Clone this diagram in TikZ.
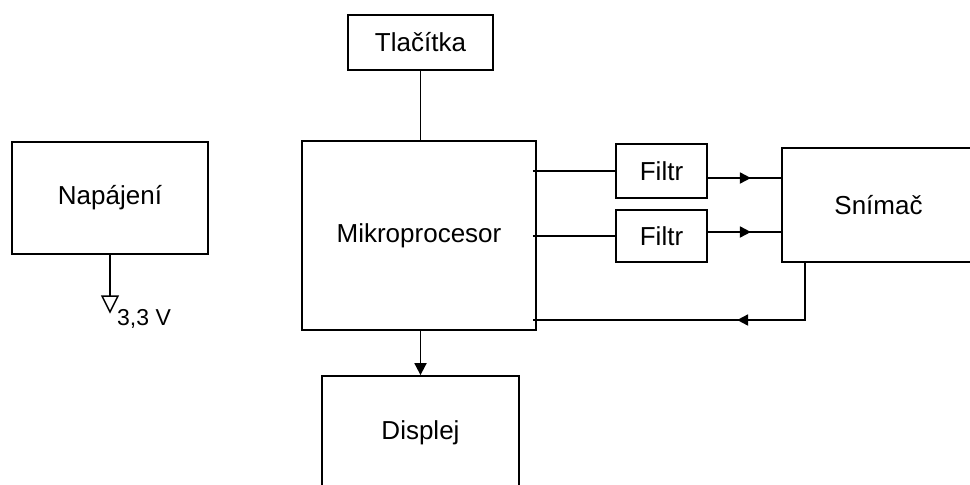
\documentclass[tikz,border=0pt]{standalone}
\usepackage{fontspec}
\setmainfont{Liberation Sans}
\usetikzlibrary{arrows.meta,decorations.markings}
\tikzset{
  blk/.style={draw=black,line width=1.8pt,inner sep=0pt,
    font=\fontsize{26}{30}\selectfont,align=center},
  wire/.style={line width=1.8pt},
  arr/.style={wire,-{Triangle[length=12pt,width=12pt]}},
  midarr/.style={wire,postaction={decorate},decoration={markings,
    mark=at position #1 with {\arrow{Triangle[length=11pt,width=11pt]}}}},
  lbl/.style={font=\fontsize{23}{27}\selectfont,inner sep=0pt,anchor=west},
}
\begin{document}
\begin{tikzpicture}[x=1pt,y=-1pt]
  \clip (0,0) rectangle (970,485);
  % blocks
  \node[blk,minimum width=196pt,minimum height=112pt] (napajeni) at (110,198) {Napájení};
  \node[blk,minimum width=145pt,minimum height=55pt] (tlacitka) at (420.5,42.5) {Tlačítka};
  \node[blk,minimum width=234pt,minimum height=189pt] (mikro) at (419,235.5) {Mikroprocesor};
  \node[blk,minimum width=91pt,minimum height=54pt] (filtr1) at (661.5,171) {Filtr};
  \node[blk,minimum width=91pt,minimum height=52pt] (filtr2) at (661.5,236) {Filtr};
  \node[blk,minimum width=193pt,minimum height=114pt] (snimac) at (878.5,205) {Snímač};
  \node[blk,minimum width=197pt,minimum height=114pt] (displej) at (420.5,433) {Displej};
  % helper points
  \coordinate (mo) at ([xshift=-4pt]mikro.east);
  \coordinate (f1) at ([yshift=-7pt]filtr1.east);
  \coordinate (f2) at ([yshift=4pt]filtr2.east);
  \coordinate (fb) at (805,320);
  \coordinate (gnd) at (110,296);
  % connections
  \draw[wire] (tlacitka.south) -- (tlacitka.south |- mikro.north);
  \draw[wire] (mo |- filtr1.west) -- (filtr1.west);
  \draw[wire] (mo |- filtr2.west) -- (filtr2.west);
  \draw[midarr=43pt] (f1) -- (snimac.west |- f1);
  \draw[midarr=43pt] (f2) -- (snimac.west |- f2);
  \draw[midarr=125pt] (snimac.south -| fb) -- (fb) -- (mo |- fb);
  \draw[arr] (displej.north |- mikro.south) -- (displej.north);
  % supply
  \draw[wire] (napajeni.south) -- (gnd);
  \draw[line width=1.5pt] (gnd) ++(-8,0) -- ++(16,0) -- ++(-8,16) -- cycle;
  \node[lbl] (volt) at (117,319) {3,3 V};
\end{tikzpicture}
\end{document}
